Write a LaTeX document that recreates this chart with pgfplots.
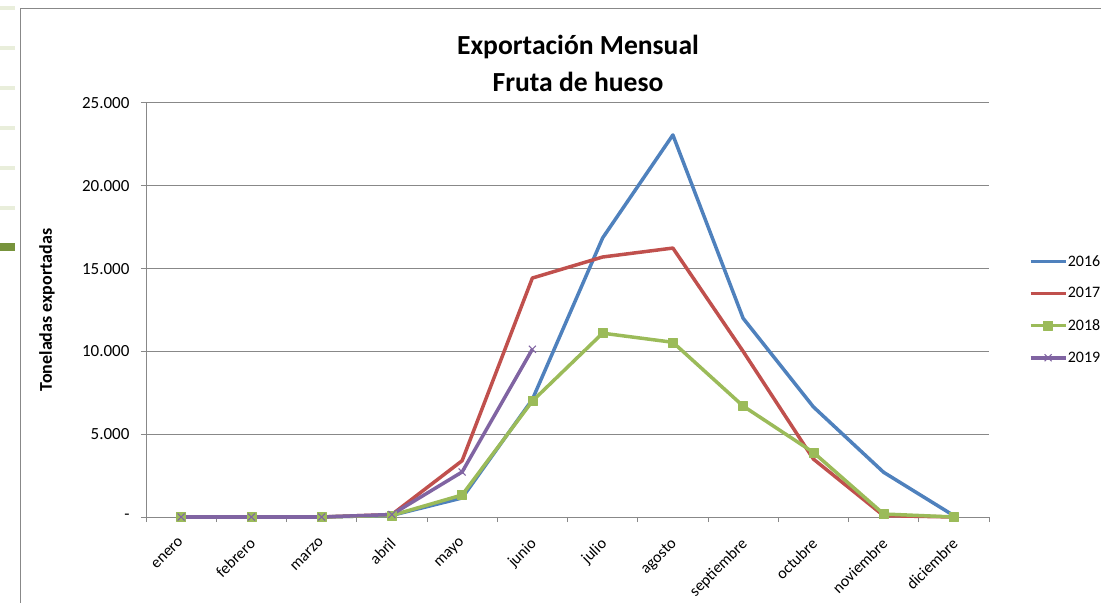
\documentclass[border=0pt]{standalone}
\usepackage{fontspec}
\setmainfont{Carlito}
\usepackage{pgfplots}
\pgfplotsset{compat=1.18}
\definecolor{c16}{HTML}{4F81BD}
\definecolor{c17}{HTML}{C0504D}
\definecolor{c18}{HTML}{9BBB59}
\definecolor{c19}{HTML}{8064A2}
\definecolor{gridgray}{HTML}{888888}
\definecolor{lightg}{HTML}{E9EEDB}
\definecolor{darkg}{HTML}{77933C}
\begin{document}
\begin{tikzpicture}
\useasboundingbox (0bp,0bp) rectangle (1101bp,603bp);
\foreach \yy in {8,48,88,128,168,208} {\fill[lightg] (0bp,{(601-\yy)*1bp}) rectangle (15bp,{(605-\yy)*1bp});}
\fill[darkg] (0bp,352bp) rectangle (15bp,360bp);
\draw[gridgray, line width=1bp] (20bp,-5bp) -- (20bp,594bp) -- (1110bp,594bp);
\node[font=\bfseries\fontsize{27.6bp}{37bp}\selectfont, align=center] at (578bp,540bp) {Exportación Mensual\\Fruta de hueso};
\begin{axis}[
  at={(146bp,86bp)}, anchor=south west,
  scale only axis, width=843bp, height=414bp,
  xmin=-0.5, xmax=11.5, ymin=0, ymax=25000,
  scaled y ticks=false,
  clip=false,
  axis x line*=bottom, axis y line*=left,
  axis line style={draw=gridgray, line width=1bp, -},
  xtick={0,...,11},
  xticklabels={enero,febrero,marzo,abril,mayo,junio,julio,agosto,septiembre,octubre,noviembre,diciembre},
  minor xtick={-0.5,0.5,...,11.5},
  major x tick style={draw=none},
  minor x tick style={draw=gridgray, line width=1bp},
  ytick={0,5000,10000,15000,20000,25000},
  yticklabels={-,5.000,10.000,15.000,20.000,25.000},
  y tick style={draw=gridgray, line width=1bp},
  tick align=outside,
  major tick length=5bp, minor tick length=5bp,
  ymajorgrids, grid style={draw=gridgray, line width=1bp},
  yticklabel style={font=\fontsize{17bp}{20bp}\selectfont, xshift=-8bp},
  xticklabel style={font=\fontsize{16bp}{19bp}\selectfont, xshift=-3bp, yshift=-10bp, rotate=45, anchor=north east},
  ylabel={Toneladas exportadas},
  ylabel style={font=\bfseries\fontsize{18bp}{21bp}\selectfont, at={(axis description cs:-0.1174,0.5)}, anchor=center},
  legend style={draw=none, fill=none, at={(rel axis cs:1.0435,0.64)}, anchor=north west,
    font=\fontsize{16bp}{19bp}\selectfont, row sep=18bp,
    nodes={inner xsep=0.5bp, inner ysep=1bp}},
  legend cell align=left,
  legend image code/.code={\draw[mark repeat=2,mark phase=2,#1] plot coordinates {(0bp,0bp) (17.5bp,0bp) (35bp,0bp)};},
  every axis plot/.append style={line width=3.5bp, line join=round},
]
\addplot[c16, mark=none] coordinates {(0,0) (1,0) (2,0) (3,100) (4,1150) (5,7100) (6,16850) (7,23070) (8,12000) (9,6650) (10,2700) (11,80)};
\addlegendentry{2016}
\addplot[c17, mark=none] coordinates {(0,0) (1,0) (2,0) (3,150) (4,3400) (5,14430) (6,15700) (7,16240) (8,10000) (9,3500) (10,80) (11,0)};
\addlegendentry{2017}
\addplot[c18, mark=square*, mark size=4.5bp, mark options={line width=0.5bp}] coordinates {(0,0) (1,0) (2,0) (3,100) (4,1330) (5,7000) (6,11100) (7,10550) (8,6700) (9,3900) (10,180) (11,0)};
\addlegendentry{2018}
\addplot[c19, mark=x, mark size=5bp, mark options={line width=1bp}] coordinates {(0,0) (1,0) (2,0) (3,150) (4,2720) (5,10130)};
\addlegendentry{2019}
\end{axis}
\end{tikzpicture}
\end{document}
